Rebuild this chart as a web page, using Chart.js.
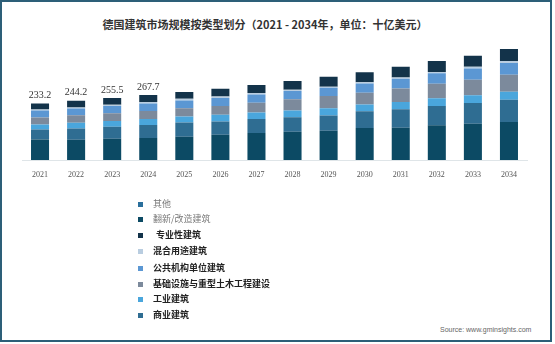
<!DOCTYPE html>
<html>
<head>
<meta charset="utf-8">
<script src="https://cdn.jsdelivr.net/npm/chart.js@4"></script>
<style>
  body { margin: 0; background: #fff; }
  #wrap { position: relative; width: 555px; height: 344px; overflow: hidden; }
  #frame { position: absolute; left: 0; top: 0; width: 548px; height: 338px; border: 2px solid #2d5f78; }
  #title { position: absolute; left: 0; top: 16px; width: 530px; text-align: center;
           font: bold 11px "Noto Sans CJK SC"; color: #333; }
  #chart { position: absolute; left: 0; top: 0; }
  #legend { position: absolute; left: 0; top: 0; }
  .item { position: absolute; font: 9px "Noto Sans CJK SC"; white-space: nowrap; }
  .item span.box { position: absolute; left: 0; top: 2px; width: 5px; height: 5px; }
  .item span.txt { position: absolute; top: -3px; }
  #source { position: absolute; left: 440px; top: 326px; font: 7px "Liberation Sans"; color: #666; }
</style>
</head>
<body>
<div id="wrap">
  <div id="frame"></div>
  <div id="title">德国建筑市场规模按类型划分（2021 - 2034年，单位：十亿美元）</div>
  <canvas id="chart" width="555" height="200"></canvas>
  <div id="legend"></div>
  <div id="source">Source: www.gminsights.com</div>
</div>
<script>
// Data
const years = ['2021', '2022', '2023', '2024', '2025', '2026', '2027', '2028', '2029', '2030', '2031', '2032', '2033', '2034'];
const totalLabels = ['233.2', '244.2', '255.5', '267.7'];

const renovation = [84.2, 83.2, 87.5, 90.7, 96, 104, 111, 116, 121, 132, 133, 143, 149, 157];
const commercial = [41, 47, 50, 54, 58, 55, 58, 60, 62, 69, 76, 80, 86, 91];
const industrial = [21, 23, 23, 24, 25, 27, 27, 28, 30, 28, 30, 31, 32, 33];
const infrastructure = [29, 31, 32, 33, 34, 37, 40, 46, 51, 48, 56, 60, 64, 70];
const institutional = [29, 28, 30, 31, 32, 32, 34, 34, 34, 38, 40, 43, 46, 49];
const mixedUse = [4, 4, 5, 6, 7, 7, 6, 5, 4, 5, 5, 6, 7, 8];
const specialty = [25, 28, 28, 29, 28, 32, 33, 36, 41, 42, 44, 45, 46, 49];
const others = [0, 0, 0, 0, 0, 0, 0, 0, 0, 0, 0, 0, 0, 0];

// stacking order, bottom first
const datasets = [
    { label: '翻新/改造建筑', data: renovation, backgroundColor: '#0c4a64' },
    { label: '商业建筑', data: commercial, backgroundColor: '#2f6d92' },
    { label: '工业建筑', data: industrial, backgroundColor: '#4aa6dc' },
    { label: '基础设施与重型土木工程建设', data: infrastructure, backgroundColor: '#7c8a9c' },
    { label: '公共机构单位建筑', data: institutional, backgroundColor: '#5b97d3' },
    { label: '混合用途建筑', data: mixedUse, backgroundColor: '#b9cde0' },
    { label: '专业性建筑', data: specialty, backgroundColor: '#13334a' },
    { label: '其他', data: others, backgroundColor: '#2a6f9c' }
];

// legend order as in the picture (top to bottom), with y positions
const legendOrder = ['其他', '翻新/改造建筑', '专业性建筑', '混合用途建筑', '公共机构单位建筑', '基础设施与重型土木工程建设', '工业建筑', '商业建筑'];
const legendY = [200, 215, 231, 247, 264, 280, 295, 311];

const totalLabelsPlugin = {
    id: 'totalLabels',
    afterDatasetsDraw(chart) {
        const ctx = chart.ctx;
        const yScale = chart.scales.y;
        const xScale = chart.scales.x;
        ctx.save();
        ctx.font = '10px "Liberation Sans Narrow"';
        ctx.fillStyle = '#333';
        ctx.textAlign = 'center';
        ctx.textBaseline = 'middle';
        totalLabels.forEach((txt, i) => {
            const total = datasets.reduce((sum, ds) => sum + ds.data[i], 0);
            const x = xScale.getPixelForValue(i);
            const y = yScale.getPixelForValue(total);
            ctx.fillText(txt, x, y - 8);
        });
        ctx.restore();
    }
};

const chart = new Chart(document.getElementById('chart'), {
    type: 'bar',
    data: { labels: years, datasets: datasets },
    options: {
        responsive: false,
        devicePixelRatio: 1,
        animation: false,
        layout: { padding: { left: 22, right: 28, top: 43.5, bottom: 10.4 } },
        plugins: {
            legend: { display: false },
            tooltip: { enabled: false }
        },
        scales: {
            x: {
                stacked: true,
                grid: { display: false, drawTicks: false },
                border: { display: true, color: '#dfe5e8' },
                ticks: { font: { family: 'Liberation Sans Narrow', size: 8 }, color: '#555', padding: 10 }
            },
            y: { stacked: true, display: false, min: 0, max: 480 }
        },
        datasets: { bar: { categoryPercentage: 0.5, barPercentage: 1 } }
    },
    plugins: [totalLabelsPlugin]
});

// HTML legend
const legendEl = document.getElementById('legend');
legendOrder.forEach((name, i) => {
    const ds = datasets.find(d => d.label === name);
    const item = document.createElement('div');
    item.className = 'item';
    item.style.left = '138px';
    item.style.top = legendY[i] + 'px';
    const box = document.createElement('span');
    box.className = 'box';
    box.style.background = ds.backgroundColor;
    const txt = document.createElement('span');
    txt.className = 'txt';
    txt.style.left = (name === '专业性建筑' ? 18 : 15) + 'px';
    txt.textContent = name;
    if (i < 2) {
        txt.style.color = '#777';
    } else {
        txt.style.color = '#222';
        txt.style.fontWeight = 'bold';
    }
    item.appendChild(box);
    item.appendChild(txt);
    legendEl.appendChild(item);
});
</script>
</body>
</html>
